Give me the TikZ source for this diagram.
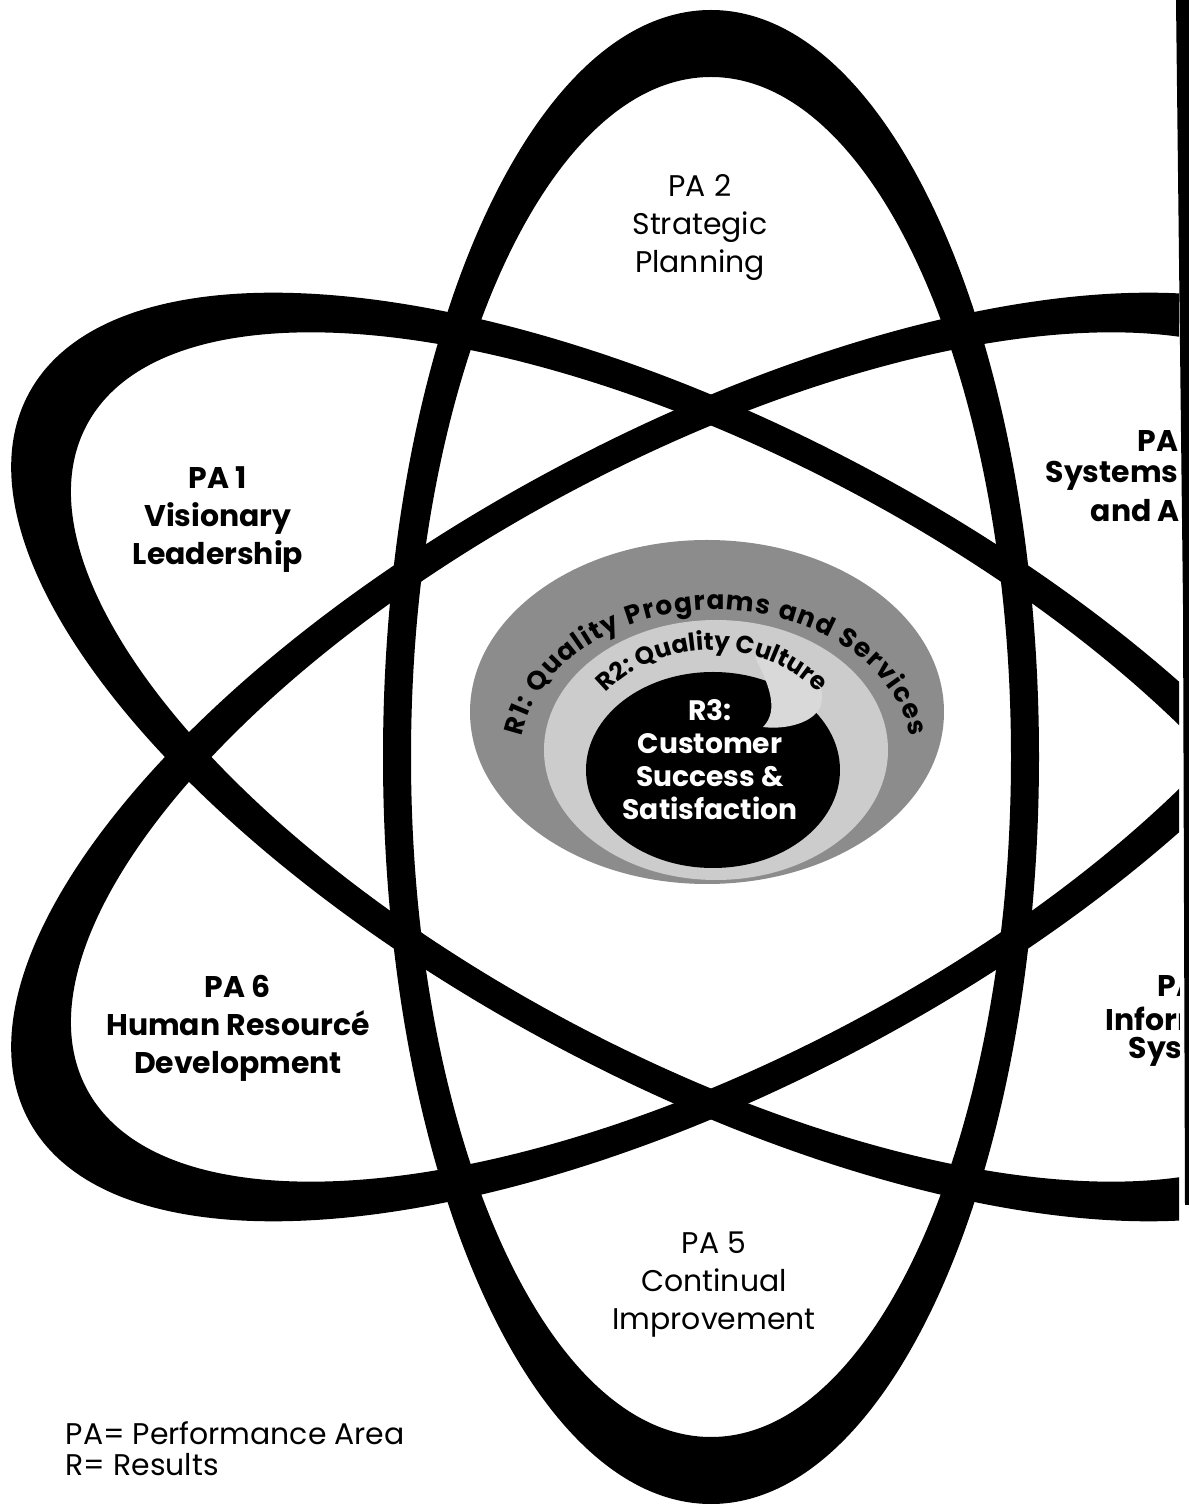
\documentclass[tikz,border=0pt]{standalone}
\usepackage{fontspec}
\setmainfont{Poppins}
\usetikzlibrary{decorations.text}

\begin{document}
\begin{tikzpicture}[x=0.01cm, y=0.01cm,
    orbit/.style={fill=black, even odd rule},
    palabel/.style={align=center, font=\fontsize{8.5}{10.8}\selectfont\bfseries, inner sep=0pt},
    palight/.style={align=center, font=\fontsize{8.5}{10.8}\selectfont, inner sep=0pt},
    cutlabel/.style={anchor=west, font=\fontsize{8.5}{10.8}\selectfont\bfseries, inner sep=0pt},
    core/.style={align=center, text=white, font=\fontsize{8}{9.4}\selectfont\bfseries, inner sep=0pt},
    legend/.style={anchor=west, font=\fontsize{8.5}{10}\selectfont, inner sep=0pt}
  ]
  \useasboundingbox (0,0) rectangle (1189,1505);
  \fill[white] (0,0) rectangle (1189,1505);
  \coordinate (c) at (711,748);

  % orbits, cut at the right edge
  \begin{scope}
    \clip (0,0) rectangle (1179,1505);
    \fill[orbit] (c) ellipse [x radius=328, y radius=747] (c) ellipse [x radius=300, y radius=680];
    \fill[orbit, rotate around={-28:(c)}] (c) ellipse [x radius=773, y radius=328] (c) ellipse [x radius=707, y radius=300];
    \fill[orbit, rotate around={28:(c)}] (c) ellipse [x radius=773, y radius=328] (c) ellipse [x radius=707, y radius=300];

    \node[cutlabel] (pa3a) at (1137,1064) {PA};
    \node[cutlabel] (pa3b) at (1045,1029) {Systems};
    \node[cutlabel] (pa3c) at (1090,994) {and A};
    \node[cutlabel] (pa4a) at (1157,519) {PA};
    \node[cutlabel] (pa4b) at (1105,486) {Inform};
    \node[cutlabel] (pa4c) at (1128,453) {Syst};
  \end{scope}
  \fill (1176,1505) -- (1189,1505) -- (1189,300) -- (1185,300) -- (1183,900) -- cycle;

  % results target
  \fill[black!45] (707,793) ellipse [x radius=237, y radius=172];
  \fill[black!20] (716,755) ellipse [x radius=172, y radius=130];
  \fill[black] (713,735) ellipse [x radius=127, y radius=98];
  \fill[black!15] (755,848) .. controls (800,854) and (828,830) .. (821,800)
    .. controls (815,782) and (785,775) .. (763,778)
    .. controls (780,795) and (768,822) .. (755,848) -- cycle;

  \path[decorate, decoration={text along path, text align={fit to path},
      text={|\fontsize{7.5}{7.5}\selectfont\bfseries|R1: Quality Programs and Services}}]
    (716,745) ++(171:197 and 150) arc[start angle=171, end angle=9, x radius=197, y radius=150];
  \path[decorate, decoration={text along path, text align=center,
      text={|\fontsize{7}{7}\selectfont\bfseries|R2: Quality Culture}}]
    (712,735) ++(152:138 and 120) arc[start angle=152, end angle=28, x radius=138, y radius=120];

  \node[core] (r3) at (710,745) {R3:\\Customer\\Success \&\\Satisfaction};

  % performance areas
  \node[palight] (pa2) at (700,1277) {PA 2\\Strategic\\Planning};
  \node[palabel] (pa1) at (218,985) {PA 1\\Visionary\\Leadership};
  \node[palabel] (pa6) at (238,477) {PA 6\\Human Resourcé\\Development};
  \node[palight] (pa5) at (714,220) {PA 5\\Continual\\Improvement};

  \node[legend] (leg1) at (65,72) {PA= Performance Area};
  \node[legend] (leg2) at (65,40) {R= Results};
\end{tikzpicture}
\end{document}
